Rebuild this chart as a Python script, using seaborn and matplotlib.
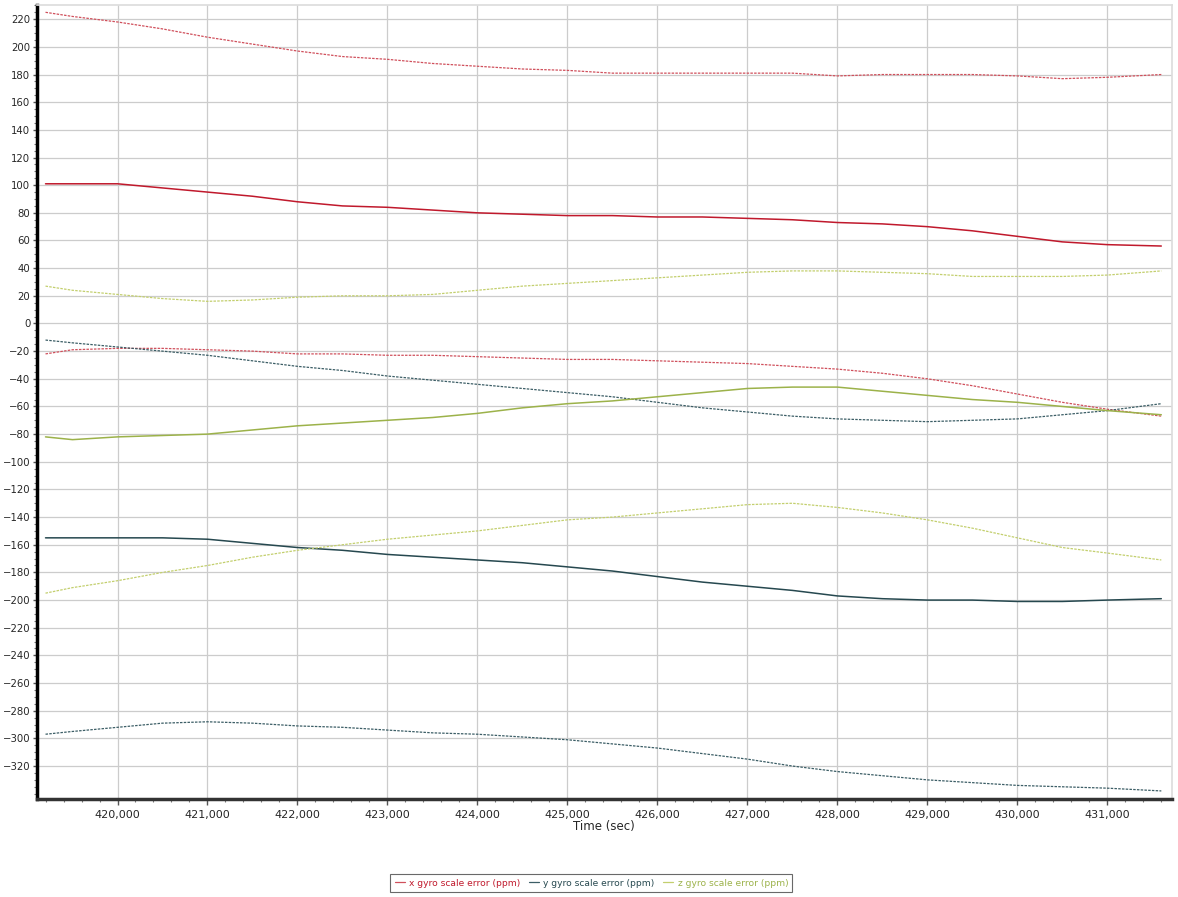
import numpy as np
import pandas as pd
import matplotlib
matplotlib.use("Agg")
import matplotlib.pyplot as plt
from matplotlib.lines import Line2D
from matplotlib.ticker import MultipleLocator, FuncFormatter
import seaborn as sns

# Tiempo (s) y series (estimación, ppm)
time_s = [419200, 419500, 420000, 420500, 421000, 421500, 422000, 422500, 423000,
          423500, 424000, 424500, 425000, 425500, 426000, 426500, 427000, 427500,
          428000, 428500, 429000, 429500, 430000, 430500, 431000, 431600]

x_upper = [225, 222, 218, 213, 207, 202, 197, 193, 191, 188, 186, 184, 183, 181, 181,
           181, 181, 181, 179, 180, 180, 180, 179, 177, 178, 180]
x_est = [101, 101, 101, 98, 95, 92, 88, 85, 84, 82, 80, 79, 78, 78, 77, 77, 76, 75,
         73, 72, 70, 67, 63, 59, 57, 56]
x_lower = [-22, -19, -18, -18, -19, -20, -22, -22, -23, -23, -24, -25, -26, -26, -27,
           -28, -29, -31, -33, -36, -40, -45, -51, -57, -62, -67]

y_upper = [-12, -14, -17, -20, -23, -27, -31, -34, -38, -41, -44, -47, -50, -53, -57,
           -61, -64, -67, -69, -70, -71, -70, -69, -66, -63, -58]
y_est = [-155, -155, -155, -155, -156, -159, -162, -164, -167, -169, -171, -173, -176,
         -179, -183, -187, -190, -193, -197, -199, -200, -200, -201, -201, -200, -199]
y_lower = [-297, -295, -292, -289, -288, -289, -291, -292, -294, -296, -297, -299, -301,
           -304, -307, -311, -315, -320, -324, -327, -330, -332, -334, -335, -336, -338]

z_upper = [27, 24, 21, 18, 16, 17, 19, 20, 20, 21, 24, 27, 29, 31, 33, 35, 37, 38, 38,
           37, 36, 34, 34, 34, 35, 38]
z_est = [-82, -84, -82, -81, -80, -77, -74, -72, -70, -68, -65, -61, -58, -56, -53, -50,
         -47, -46, -46, -49, -52, -55, -57, -60, -63, -66]
z_lower = [-195, -191, -186, -180, -175, -169, -164, -160, -156, -153, -150, -146, -142,
           -140, -137, -134, -131, -130, -133, -137, -142, -148, -155, -162, -166, -171]

legend_labels = ["x gyro scale error (ppm)", "y gyro scale error (ppm)",
                 "z gyro scale error (ppm)"]

# ── Colores ─────────────────────────────────
RED, RED_L = "#c0192c", "#d0505c"
TEAL, TEAL_L = "#26484f", "#3c5e66"
GREEN, GREEN_L = "#9cb24a", "#c3cf6e"

sns.set_theme(style="white")
plt.rcParams["font.family"] = ["DejaVu Sans"]

fig = plt.figure(figsize=(11.78, 8.97), dpi=100)
ax = fig.add_axes([0.031, 0.109, 0.964, 0.885])

series = [
    (x_upper, RED_L, "dotted"), (x_est, RED, "solid"), (x_lower, RED_L, "dotted"),
    (y_upper, TEAL_L, "dotted"), (y_est, TEAL, "solid"), (y_lower, TEAL_L, "dotted"),
    (z_upper, GREEN_L, "dotted"), (z_est, GREEN, "solid"), (z_lower, GREEN_L, "dotted"),
]
for vals, col, style in series:
    df = pd.DataFrame({"t": time_s, "v": vals})
    if style == "solid":
        sns.lineplot(data=df, x="t", y="v", ax=ax, color=col, linewidth=1.1)
    else:
        sns.lineplot(data=df, x="t", y="v", ax=ax, color=col, linewidth=0.9,
                     linestyle=(0, (2, 1)))

ax.set_xlim(419100, 431720)
ax.set_ylim(-344, 230)
ax.xaxis.set_major_locator(MultipleLocator(1000))
ax.xaxis.set_minor_locator(MultipleLocator(200))
ax.yaxis.set_minor_locator(MultipleLocator(5))
ax.xaxis.set_major_formatter(FuncFormatter(lambda v, p: f"{int(v):,}"))
ax.set_yticks(np.arange(-320, 221, 20))
ax.grid(True, which="major", color="#cccccc", linewidth=0.9)
ax.tick_params(axis="x", which="major", labelsize=8, length=4, width=1,
               color="#555555", direction="out", bottom=True)
ax.tick_params(axis="y", which="major", labelsize=7.3, length=3, width=1, pad=1.5,
               color="#555555", direction="out", left=True)
ax.tick_params(axis="both", which="minor", length=2, width=0.8, color="#777777",
               direction="out", left=True, bottom=True)
ax.set_xlabel("Time (sec)", fontsize=8.5, labelpad=0)
ax.set_ylabel("")

ax.spines["left"].set_color("black")
ax.spines["left"].set_linewidth(2.5)
ax.spines["bottom"].set_color("#333333")
ax.spines["bottom"].set_linewidth(2.5)
ax.spines["top"].set_color("#dddddd")
ax.spines["right"].set_color("#dddddd")

handles = [Line2D([0], [0], color=c, linewidth=0.9) for c in (RED_L, TEAL_L, GREEN_L)]
leg = fig.legend(handles, legend_labels, loc="center", bbox_to_anchor=(0.502, 0.0156),
                 ncol=3, fontsize=6.6, frameon=True, handlelength=1.1, handletextpad=0.5,
                 columnspacing=0.9, borderpad=0.45, fancybox=False)
leg.get_frame().set_edgecolor("#444444")
leg.get_frame().set_linewidth(0.8)
for txt, c in zip(leg.get_texts(), (RED, TEAL, GREEN)):
    txt.set_color(c)

fig.savefig("out.png", dpi=100)
